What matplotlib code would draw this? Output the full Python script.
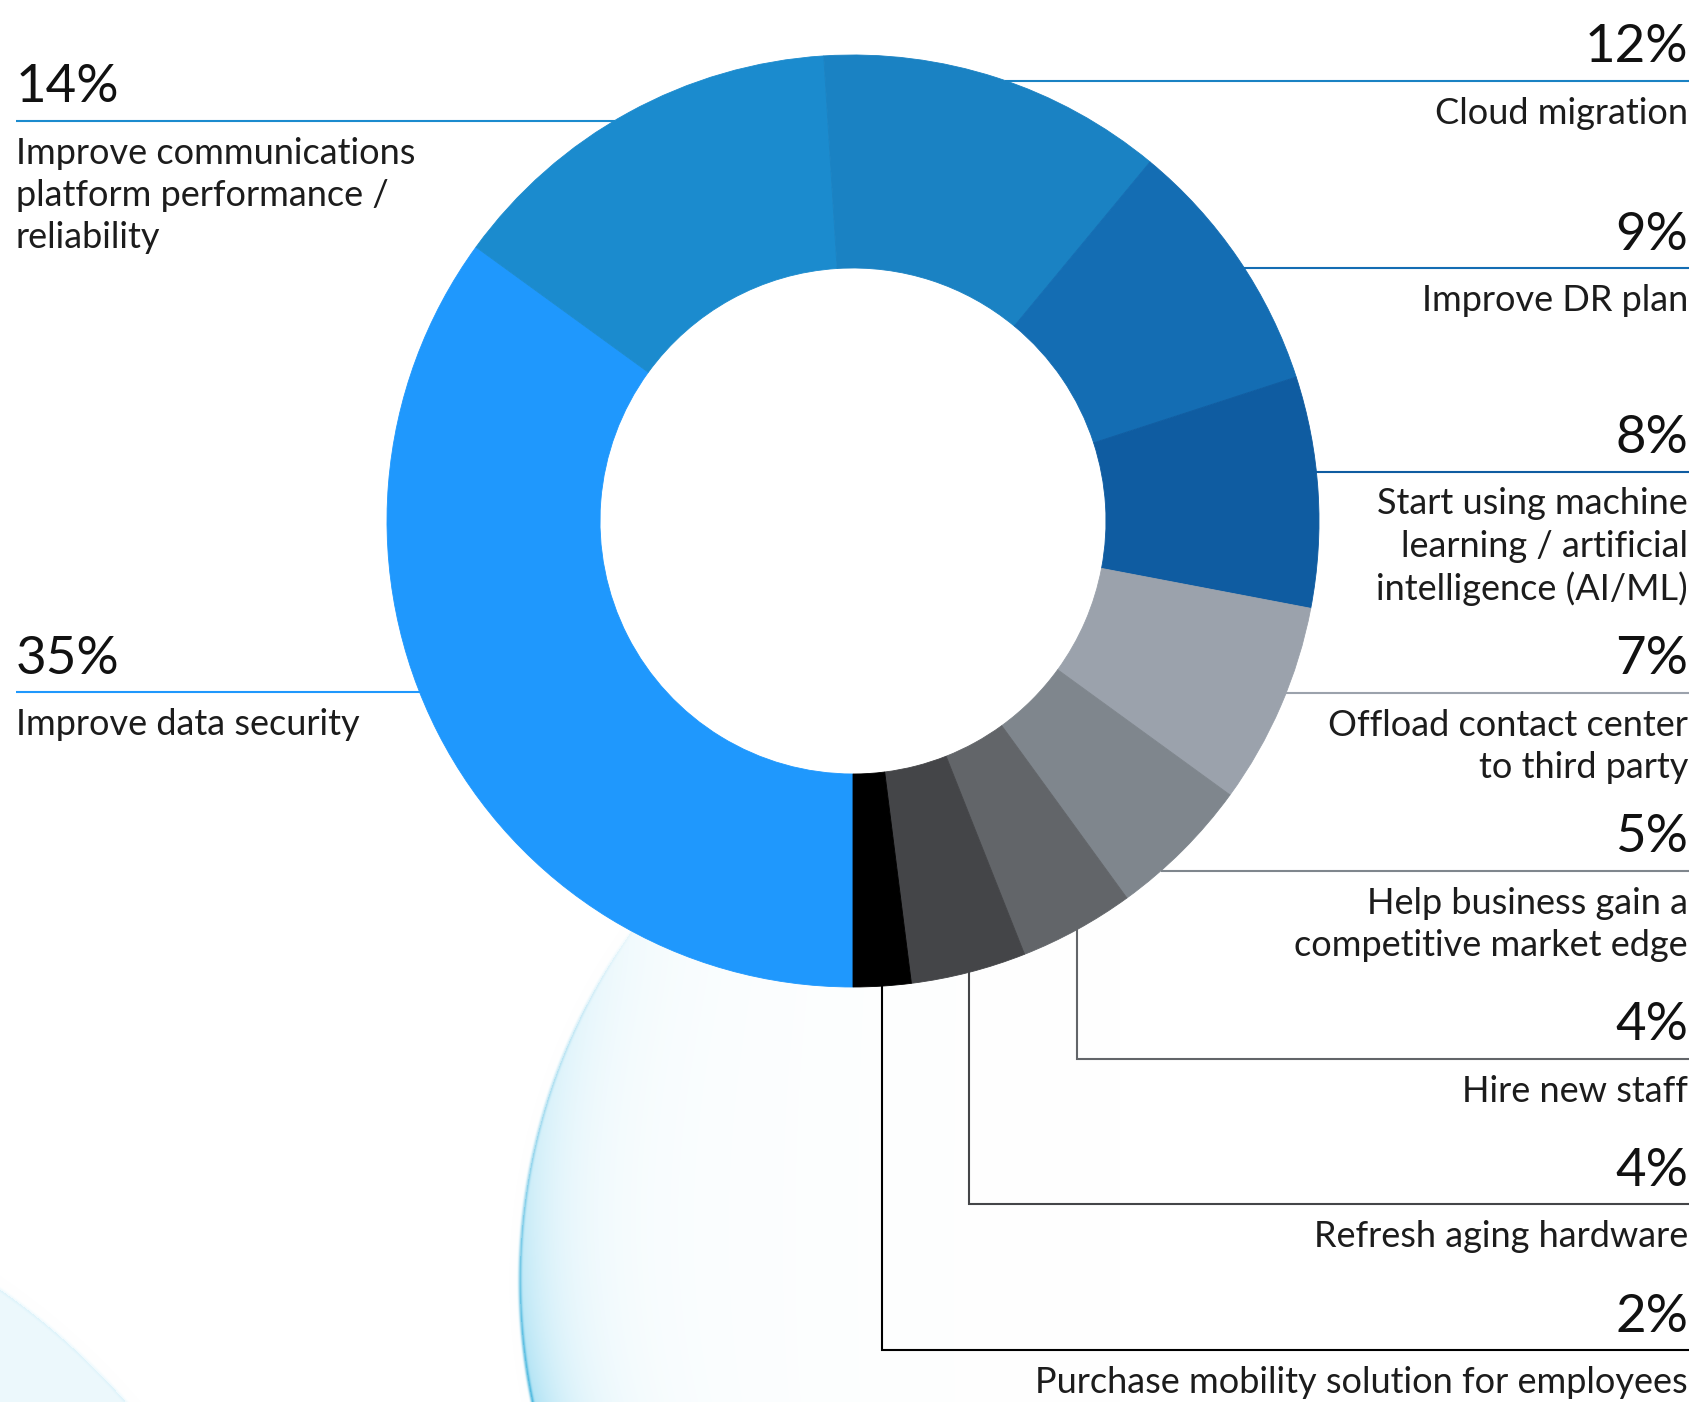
import numpy as np
import matplotlib.pyplot as plt

# ── Data ──
labels = [
    ["Improve data security"],
    ["Improve communications", "platform performance /", "reliability"],
    ["Cloud migration"],
    ["Improve DR plan"],
    ["Start using machine", "learning / artificial", "intelligence (AI/ML)"],
    ["Offload contact center", "to third party"],
    ["Help business gain a", "competitive market edge"],
    ["Hire new staff"],
    ["Refresh aging hardware"],
    ["Purchase mobility solution for employees"],
]
shares = [35, 14, 12, 9, 8, 7, 5, 4, 4, 2]
colors = ["#1F98FD", "#1B8BCE", "#1A82C3", "#146DB3", "#0F5CA1",
          "#9BA2AC", "#7F868D", "#626569", "#444548", "#000000"]

# ── Layout (pixels, y down) ──
W, H = 1703, 1402
cx, cy, R = 853, 521, 466
ring = 213
left_x, right_x = 16, 1689
# per slice: side, y of the rule, leader style ("h" = straight, "v" = elbow)
side = ["L", "L", "R", "R", "R", "R", "R", "R", "R", "R"]
rule_y = [692, 120.5, 80.5, 268, 471.5, 692.5, 871, 1059, 1204, 1350]
leader = ["h", "h", "h", "h", "h", "h", "h", "v", "v", "v"]
line_step = 42.5

plt.rcParams["font.family"] = ["Lato", "DejaVu Sans"]

fig = plt.figure(figsize=(W / 100, H / 100), dpi=100)
ax = fig.add_axes([0, 0, 1, 1])

# ── Background bubbles ──
yy, xx = np.mgrid[0:H, 0:W] + 0.5
bg = np.ones((H, W, 3))


def tint(alpha, rgb):
    global bg
    a = np.clip(alpha, 0, 1)[..., None]
    bg = bg * (1 - a) + np.array(rgb) * a


# big bubble, bottom centre
bx, by, br = 1120, 1280, 600
d = np.hypot(xx - bx, yy - by)
inside = d < br
towards_left = np.clip((bx - xx) / br, 0, 1)
lower = np.clip((yy - 900) / 500, 0, 1)
glow = np.where(inside, np.exp(-(br - d) / 45), 0) * (0.05 + 0.6 * lower) * towards_left ** 0.8
base = np.where(inside, 0.06, 0) * towards_left ** 1.5
tint(glow + base, (0.55, 0.84, 0.94))
rim = np.exp(-((d - br) / 1.8) ** 2) * (0.7 * lower) * towards_left
tint(rim, (0.15, 0.66, 0.84))

# corner bubble, bottom left
ex, ey, er = -400, 1864, 700
d2 = np.hypot(xx - ex, yy - ey)
tint(np.where(d2 < er, 0.16, 0) + np.exp(-((d2 - er) / 2.0) ** 2) * 0.12,
     (0.55, 0.84, 0.94))

ax.imshow(bg, extent=(0, W, H, 0), zorder=0, interpolation="bilinear")

# ── Donut ──
wedges, _ = ax.pie(shares, colors=colors, startangle=90, counterclock=True,
                   center=(cx, cy), radius=R,
                   wedgeprops=dict(width=ring, linewidth=0.6))
for w, c in zip(wedges, colors):
    w.set_edgecolor(c)
    w.set_zorder(3)
# plain white hole
ax.add_patch(plt.Circle((cx, cy), R - ring, color="white", zorder=1))

# ── Leaders and labels ──
cum = np.cumsum([0] + shares[:-1])
for i, pct in enumerate(shares):
    y = rule_y[i]
    col = colors[i]
    if leader[i] == "h":
        dx = np.sqrt(R ** 2 - (y - cy) ** 2)
        if side[i] == "L":
            ax.plot([left_x, cx - dx], [y, y], color=col, lw=1.5, zorder=2,
                    solid_capstyle="butt")
        else:
            ax.plot([cx + dx, right_x], [y, y], color=col, lw=1.5, zorder=2,
                    solid_capstyle="butt")
    else:
        mid = np.deg2rad(90 + (cum[i] + pct / 2) * 3.6)
        px, py = cx + R * np.cos(mid), cy + R * np.sin(mid)
        ax.plot([px, px, right_x], [py, y, y], color=col, lw=1.5, zorder=2,
                solid_joinstyle="miter", solid_capstyle="butt")

    tx = left_x if side[i] == "L" else right_x - 1
    ha = "left" if side[i] == "L" else "right"
    ax.text(tx, y - 18.5, f"{pct}%", fontsize=38, ha=ha, va="baseline",
            color="#111111", zorder=4)
    for k, line in enumerate(labels[i]):
        ax.text(tx, y + 43 + k * line_step, line, fontsize=26, ha=ha,
                va="baseline", color="#1c1c1c", fontweight="normal", zorder=4)

ax.set_xlim(0, W)
ax.set_ylim(H, 0)
ax.set_aspect("equal")
ax.axis("off")

fig.savefig("out.png", dpi=100)
